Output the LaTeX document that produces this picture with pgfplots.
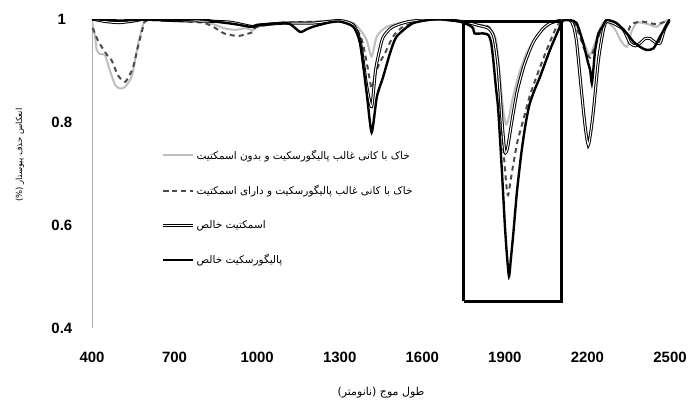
\documentclass[border=0pt]{standalone}
\usepackage{pgfplots}
\pgfplotsset{compat=1.18}
\usepackage{fontspec}
\setmainfont{Liberation Sans}
\newfontfamily\arabicfont[Script=Arabic]{DejaVu Sans}
\TeXXeTstate=1

\definecolor{softgray}{RGB}{190,190,190}
\definecolor{dashgray}{RGB}{75,75,75}
\definecolor{axisgray}{RGB}{170,170,170}

\begin{document}
\begin{tikzpicture}
\useasboundingbox (-92bp,-75bp) rectangle (601bp,328bp);
\begin{axis}[
  scale only axis, width=578bp, height=309bp,
  xmin=400, xmax=2500, ymin=0.4, ymax=1,
  xtick={400,700,...,2500}, ytick={0.4,0.6,0.8,1},
  axis lines=left, axis line style={-},
  x axis line style={draw=none},
  y axis line style={draw=axisgray, line width=0.8bp},
  tick style={draw=none},
  /pgf/number format/assume math mode=true,
  /pgf/number format/1000 sep={},
  ticklabel style={font=\fontsize{15}{15}\selectfont\bfseries},
  xticklabel style={anchor=center, yshift=-27bp},
  yticklabel style={anchor=center, xshift=-28bp},
  xlabel={\beginR طول موج (نانومتر)\endR},
  xlabel style={font=\arabicfont\fontsize{11}{11}\selectfont, at={(axis description cs:0.5,0)}, anchor=center, yshift=-65bp},
  ylabel={\beginR انعکاس حذف پیوستار (\%)\endR},
  ylabel style={font=\arabicfont\fontsize{8.5}{8.5}\selectfont, at={(axis description cs:0,0.56)}, anchor=center, yshift=72bp},
  legend style={draw=none, fill=none, at={(0.115,0.59)}, anchor=north west,
    font=\arabicfont\fontsize{10.5}{10.5}\selectfont, row sep=20.5bp, legend cell align=left},
  legend image code/.code={\draw[#1] plot coordinates {(0bp,0bp) (30bp,0bp)};},
  smooth, tension=0.4,
]
% soil dominated by palygorskite, no smectite
\addplot[softgray, line width=2bp] coordinates {
(400,0.995) (410,0.97) (417,0.94) (430,0.932) (447,0.93) (465,0.90) (484,0.872)
(502,0.865) (520,0.868) (544,0.888) (560,0.93) (568,0.953) (586,0.99) (600,0.998)
(700,0.997) (800,0.995) (840,0.99) (880,0.982) (920,0.979) (960,0.982) (985,0.978)
(1000,0.985) (1100,0.993) (1200,0.995) (1300,0.997) (1350,0.992) (1380,0.975)
(1398,0.959) (1416,0.927) (1435,0.966) (1471,0.985) (1543,0.995) (1650,1.0)
(1700,0.998) (1760,0.994) (1800,0.99) (1840,0.985) (1860,0.97) (1870,0.953)
(1882,0.888) (1895,0.82) (1905,0.795) (1915,0.81) (1930,0.85) (1955,0.90)
(1980,0.935) (2003,0.955) (2030,0.975) (2064,0.99) (2100,0.998) (2130,1.0)
(2150,0.995) (2170,0.975) (2190,0.95) (2208,0.93) (2225,0.95) (2245,0.98)
(2265,0.997) (2300,0.98) (2320,0.959) (2343,0.946) (2360,0.975) (2380,0.993)
(2420,0.99) (2450,0.985) (2480,0.995) (2500,1.0)};
\addlegendentry{\beginR خاک با کانی غالب پالیگورسکیت و بدون اسمکتیت\endR}

% soil dominated by palygorskite, with smectite
\addplot[dashgray, line width=2bp, dash pattern=on 5bp off 4bp] coordinates {
(400,0.98) (404,0.98) (420,0.96) (435,0.946) (455,0.93) (471,0.92) (495,0.89)
(520,0.878) (535,0.89) (549,0.905) (567,0.946) (586,0.985) (600,0.997)
(700,0.996) (800,0.993) (840,0.985) (880,0.972) (930,0.967) (970,0.972) (985,0.975)
(1000,0.985) (1100,0.993) (1200,0.994) (1300,0.996) (1350,0.99) (1380,0.96)
(1400,0.91) (1416,0.865) (1430,0.895) (1450,0.92) (1465,0.934) (1494,0.966)
(1530,0.985) (1600,0.997) (1650,1.0) (1700,0.998) (1760,0.993) (1800,0.988)
(1840,0.985) (1860,0.965) (1875,0.9) (1890,0.78) (1905,0.68) (1912,0.658)
(1925,0.70) (1945,0.76) (1967,0.804) (1990,0.85) (2015,0.888) (2052,0.94)
(2088,0.985) (2110,0.997) (2130,1.0) (2150,0.993) (2170,0.97) (2190,0.94)
(2210,0.925) (2230,0.95) (2250,0.98) (2270,0.995) (2300,0.99) (2320,0.985)
(2343,0.972) (2360,0.99) (2400,0.995) (2450,0.99) (2500,0.998)};
\addlegendentry{\beginR خاک با کانی غالب پالیگورسکیت و دارای اسمکتیت\endR}

% pure smectite
\addplot[draw=black, line width=1bp, double=white, double distance=1bp] coordinates {
(400,1.0) (450,0.995) (500,0.993) (550,0.996) (600,1.0) (700,0.997) (800,0.996)
(900,0.994) (985,0.985) (1000,0.988) (1100,0.992) (1200,0.992) (1300,0.997)
(1350,0.988) (1375,0.955) (1398,0.87) (1416,0.83) (1430,0.90) (1445,0.94)
(1458,0.965) (1490,0.984) (1550,0.995) (1650,1.0) (1700,0.998) (1760,0.994)
(1800,0.988) (1840,0.982) (1860,0.965) (1875,0.91) (1890,0.80) (1900,0.742)
(1910,0.75) (1925,0.80) (1945,0.86) (1970,0.91) (2003,0.955) (2040,0.982)
(2070,0.993) (2110,0.998) (2137,0.998) (2150,0.985) (2161,0.953) (2179,0.856)
(2192,0.79) (2203,0.755) (2212,0.78) (2222,0.823) (2240,0.92) (2258,0.979)
(2270,0.995) (2300,0.99) (2331,0.979) (2355,0.953) (2375,0.948) (2391,0.953)
(2410,0.962) (2428,0.962) (2445,0.955) (2464,0.953) (2480,0.98) (2495,0.995)
(2500,0.998)};
\addlegendentry{\beginR اسمکتیت خالص\endR}

% pure palygorskite
\addplot[black, line width=2.4bp] coordinates {
(400,1.0) (500,0.997) (600,0.999) (700,0.997) (792,1.0) (850,0.995) (920,0.99)
(974,0.985) (1000,0.988) (1083,0.992) (1120,0.99) (1156,0.975) (1180,0.98)
(1203,0.985) (1260,0.993) (1301,0.995) (1349,0.985) (1374,0.953) (1398,0.856)
(1416,0.78) (1435,0.849) (1458,0.888) (1483,0.934) (1507,0.966) (1567,0.992)
(1652,1.0) (1700,0.998) (1737,0.995) (1770,0.988) (1785,0.982) (1790,0.972)
(1822,0.972) (1840,0.969) (1850,0.955) (1858,0.92) (1867,0.87) (1876,0.823)
(1889,0.707) (1900,0.60) (1907,0.545) (1915,0.50) (1922,0.535) (1931,0.585)
(1944,0.665) (1960,0.74) (1975,0.795) (1990,0.835) (2010,0.865) (2028,0.888)
(2064,0.94) (2100,0.985) (2113,0.998) (2140,0.997) (2161,0.992) (2185,0.953)
(2200,0.92) (2210,0.90) (2216,0.875) (2222,0.905) (2228,0.94) (2240,0.972)
(2255,0.985) (2270,0.998) (2306,0.992) (2343,0.972) (2367,0.956) (2391,0.946)
(2415,0.94) (2440,0.943) (2464,0.966) (2495,0.995) (2500,1.0)};
\addlegendentry{\beginR پالیگورسکیت خالص\endR}

% frame around the 1900 nm band
\addplot[black, line width=2.6bp, sharp plot, line join=miter, forget plot] coordinates {
(1750,0.452) (2105,0.452) (2105,0.995) (1750,0.995) (1750,0.452)};
\end{axis}
\end{tikzpicture}
\end{document}
